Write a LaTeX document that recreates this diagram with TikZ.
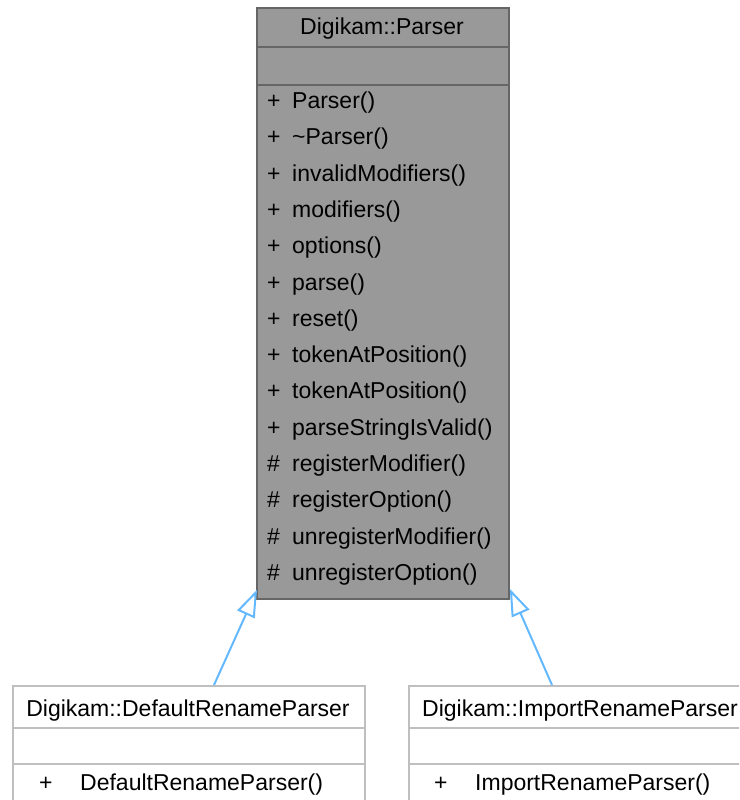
\documentclass[tikz,border=0pt]{standalone}
\usepackage{fontspec}
\setmainfont{Liberation Sans}
\usetikzlibrary{arrows.meta}
\definecolor{boxfill}{HTML}{999999}
\definecolor{boxline}{HTML}{666666}
\definecolor{lightline}{HTML}{BFBFBF}
\definecolor{inhcol}{HTML}{63B8FF}
\begin{document}
\begin{tikzpicture}[x=1pt,y=-1pt,font=\fontsize{23}{27}\selectfont,
  cls/.style={draw=boxline, fill=boxfill, line width=1.8pt, inner sep=0, anchor=north west},
  sub/.style={draw=lightline, fill=white, line width=1.8pt, inner sep=0, anchor=north west},
  cdiv/.style={draw=boxline, line width=1.8pt},
  sdiv/.style={draw=lightline, line width=1.8pt},
  txt/.style={anchor=base west, inner sep=0},
  ctxt/.style={anchor=base, inner sep=0},
  inh/.style={draw=inhcol, line width=2pt, -{Triangle[open, length=27pt, width=19pt]}}]
\useasboundingbox (0,0) rectangle (739,800);
\clip (0,0) rectangle (739,800);
% main class
\node[cls, minimum width=252pt, minimum height=591pt] (parser) at (256,7) {};
\draw[cdiv] (256,47) -- (508,47);
\draw[cdiv] (256,85) -- (508,85);
\node[ctxt] (ptitle) at (382,35) {Digikam::Parser};
\foreach \s/\m [count=\i from 0] in {
  +/{Parser()}, +/{\textasciitilde Parser()}, +/{invalidModifiers()}, +/{modifiers()},
  +/{options()}, +/{parse()}, +/{reset()}, +/{tokenAtPosition()}, +/{tokenAtPosition()},
  +/{parseStringIsValid()}, \#/{registerModifier()}, \#/{registerOption()},
  \#/{unregisterModifier()}, \#/{unregisterOption()}}{
  \node[txt] (s\i) at (267,{108.5+36.3*\i}) {\s};
  \node[txt] (m\i) at (292,{108.5+36.3*\i}) {\m};
}
% subclasses
\node[sub, minimum width=352pt, minimum height=130pt] (def) at (12,685) {};
\draw[sdiv] (12,728) -- (364,728);
\draw[sdiv] (12,764) -- (364,764);
\node[ctxt] (dtitle) at (188,716) {Digikam::DefaultRenameParser};
\node[txt] (dplus) at (39,790) {+};
\node[txt] (dm) at (80,790) {DefaultRenameParser()};

\node[sub, minimum width=344pt, minimum height=130pt] (imp) at (408,685) {};
\draw[sdiv] (408,728) -- (752,728);
\draw[sdiv] (408,764) -- (752,764);
\node[ctxt] (ititle) at (580,716) {Digikam::ImportRenameParser};
\node[txt] (iplus) at (434,790) {+};
\node[txt] (im) at (475,790) {ImportRenameParser()};
% inheritance
\draw[inh] ([xshift=202pt]def.north west) -- ([xshift=1pt,yshift=10pt]parser.south west);
\draw[inh] ([xshift=144pt]imp.north west) -- ([yshift=11pt]parser.south east);
\end{tikzpicture}
\end{document}
